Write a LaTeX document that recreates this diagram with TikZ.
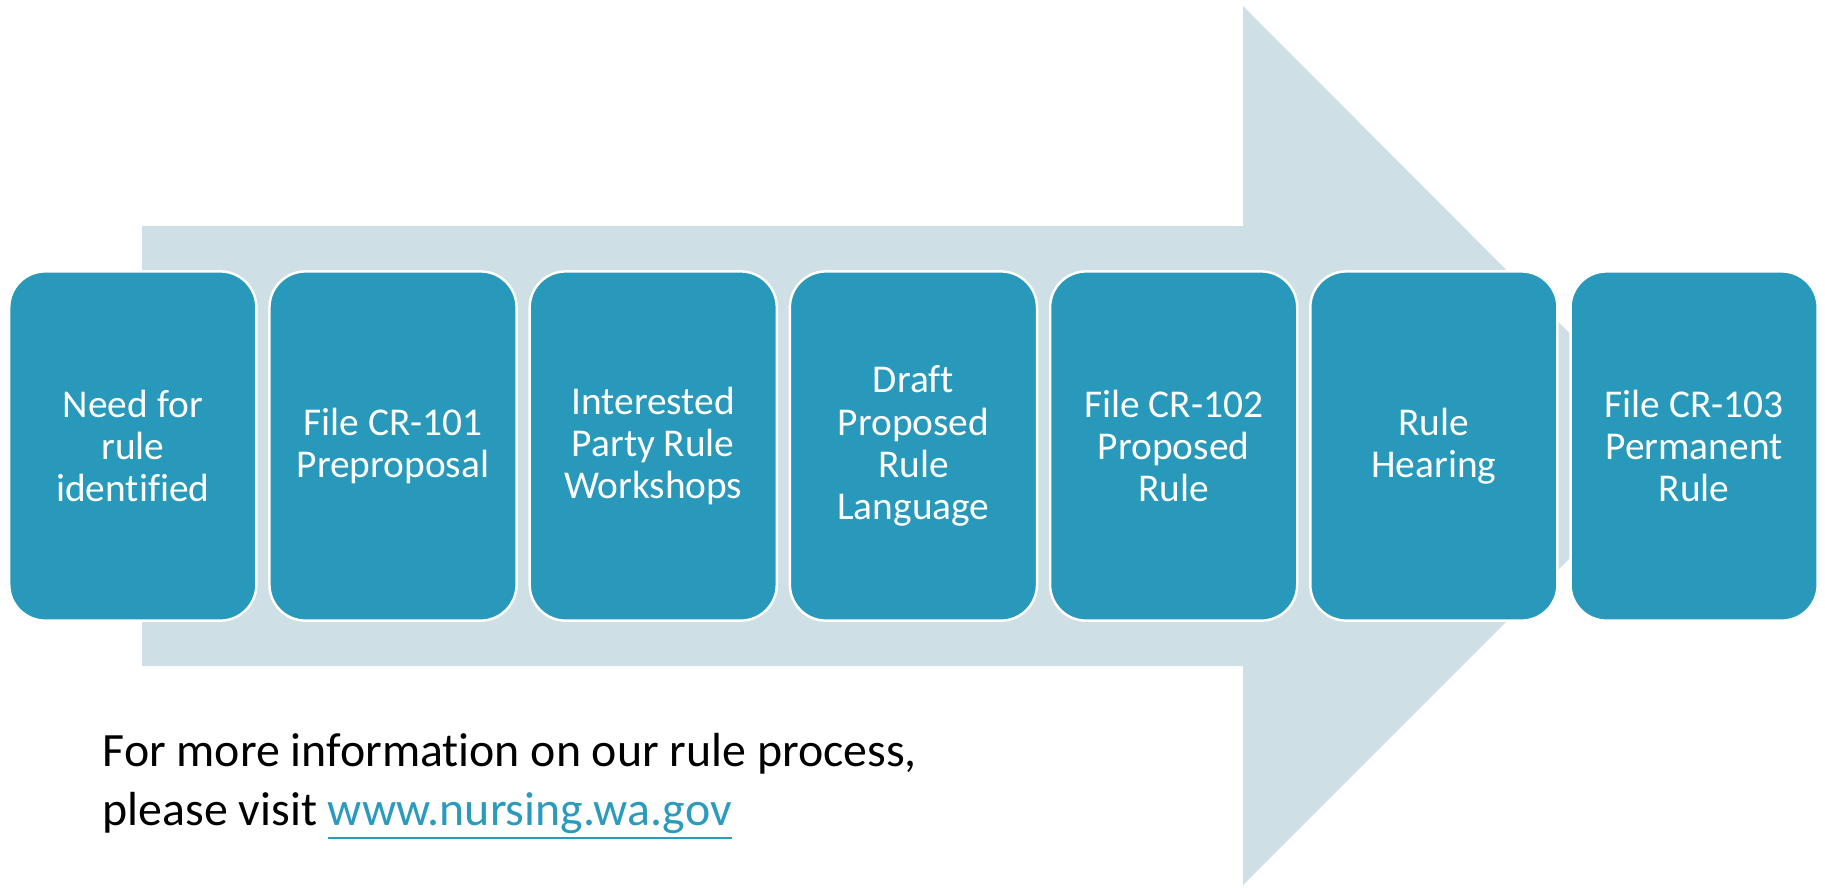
\documentclass[tikz,border=0pt]{standalone}
\usepackage{fontspec}
\setmainfont{Carlito}[Ligatures={NoCommon}]
\usetikzlibrary{positioning}
\definecolor{stepteal}{RGB}{40, 153, 186}
\definecolor{arrowgrey}{RGB}{207, 223, 230}
\definecolor{linkteal}{RGB}{42, 154, 189}

\begin{document}
\begin{tikzpicture}[x=0.01cm, y=-0.01cm, node distance=0.106cm,
  stepbox/.style={draw=white, line width=0.7pt, fill=stepteal, rounded corners=0.36cm,
    minimum width=2.47cm, minimum height=3.49cm, align=center,
    inner sep=0pt, text=white, font=\fontsize{11.2}{12}\selectfont}]
  \useasboundingbox (0,0) rectangle (1825,887);

  % Big arrow behind the steps
  \fill[arrowgrey] (142,226) -- (1243,226) -- (1243,6) -- (1682,446)
    -- (1243,885) -- (1243,666) -- (142,666) -- cycle;

  % Steps
  \node[stepbox, anchor=west] (need) at (8,446) {Need for\\rule\\identified};
  \node[stepbox, right=of need] (cr101) {File CR-101\\Preproposal};
  \node[stepbox, right=of cr101] (workshops) {Interested\\Party Rule\\Workshops};
  \node[stepbox, right=of workshops] (draft) {Draft\\Proposed\\Rule\\Language};
  \node[stepbox, right=of draft] (cr102) {File CR-102\\Proposed\\Rule};
  \node[stepbox, right=of cr102] (hearing) {Rule\\Hearing};
  \node[stepbox, right=of hearing] (cr103) {File CR-103\\Permanent\\Rule};

  % Footer
  \node[anchor=west, align=left, inner sep=0pt, font=\fontsize{13.6}{16.5}\selectfont] (info) at (102,787)
    {For more information on our rule process,\\please visit \textcolor{linkteal}{\underline{www.nursing.wa.gov}}};
\end{tikzpicture}
\end{document}
